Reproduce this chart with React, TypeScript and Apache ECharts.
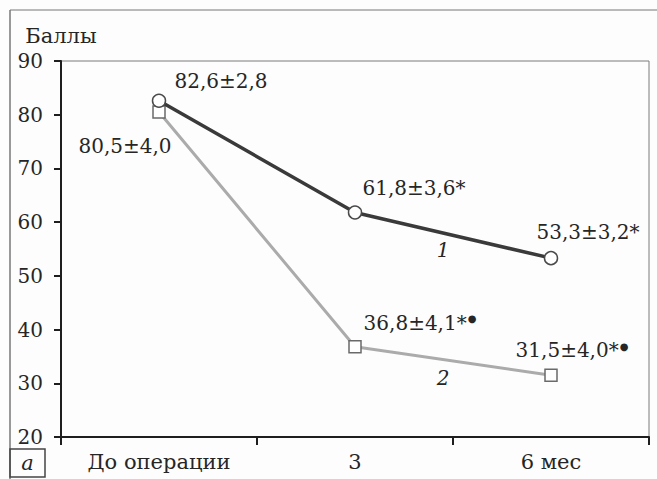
import React, { useEffect, useRef } from "react";
import * as echarts from "echarts";

const categories = ["До операции", "3", "6 мес"];
const series1Values = [82.6, 61.8, 53.3];
const series2Values = [80.5, 36.8, 31.5];
const series1Labels = ["82,6±2,8", "61,8±3,6*", "53,3±3,2*"];
const series2Labels = ["80,5±4,0", "36,8±4,1*", "31,5±4,0*"];
const series2Marks = ["", "●", "●"];
const yTicks = [20, 30, 40, 50, 60, 70, 80, 90];

const FONT = "DejaVu Serif";
const TEXT = "#262626";

const s1Offsets: [number, number][] = [[62, -20], [59, -24], [37, -26]];
const s2Offsets: [number, number][] = [[-34, 34], [65, -24], [21, -25]];

export default function App() {
  const ref = useRef<HTMLDivElement>(null);
  useEffect(() => {
    if (!ref.current) return;
    const chart = echarts.init(ref.current, undefined, { renderer: "svg" });
    const rich = {
      t: { fontFamily: FONT, fontSize: 20, color: TEXT },
      d: { fontFamily: FONT, fontSize: 10, color: TEXT, padding: [0, 0, 8, 1] },
    };
    chart.setOption({
      animation: false,
      backgroundColor: "#fdfdfd",
      grid: {
        left: 61,
        right: 8,
        top: 61,
        bottom: 42,
        show: true,
        borderColor: "#7a7a7a",
        borderWidth: 1,
      },
      xAxis: {
        type: "category",
        data: categories,
        boundaryGap: true,
        axisLine: { lineStyle: { color: "#1e1e1e", width: 2 } },
        axisTick: { show: true, length: 8, lineStyle: { color: "#1e1e1e", width: 2 } },
        axisLabel: { fontFamily: FONT, fontSize: 21, color: TEXT, margin: 14 },
        splitLine: { show: false },
      },
      yAxis: {
        type: "value",
        min: yTicks[0],
        max: yTicks[yTicks.length - 1],
        interval: 10,
        name: "Баллы",
        nameLocation: "end",
        nameGap: 15,
        nameTextStyle: { fontFamily: FONT, fontSize: 21, color: TEXT },
        axisLine: { show: true, lineStyle: { color: "#1e1e1e", width: 2 } },
        axisTick: { show: true, length: 7, lineStyle: { color: "#1e1e1e", width: 2 } },
        axisLabel: { fontFamily: FONT, fontSize: 20, color: TEXT, margin: 18 },
        splitLine: { show: false },
      },
      series: [
        {
          type: "line",
          data: series1Values.map((v, i) => ({
            value: v,
            label: {
              show: true,
              position: "inside",
              offset: s1Offsets[i],
              formatter: series1Labels[i],
              fontFamily: FONT,
              fontSize: 20,
              color: TEXT,
            },
          })),
          symbol: "circle",
          symbolSize: 13,
          lineStyle: { color: "#3a3a3a", width: 3.5 },
          itemStyle: { color: "#ffffff", borderColor: "#4a4a4a", borderWidth: 1.5 },
          z: 3,
        },
        {
          type: "line",
          data: series2Values.map((v, i) => ({
            value: v,
            label: {
              show: true,
              position: "inside",
              offset: s2Offsets[i],
              formatter: series2Marks[i]
                ? `{t|${series2Labels[i]}}{d|${series2Marks[i]}}`
                : `{t|${series2Labels[i]}}`,
              rich,
            },
          })),
          symbol: "rect",
          symbolSize: 12,
          lineStyle: { color: "#ababab", width: 3 },
          itemStyle: { color: "#ffffff", borderColor: "#6a6a6a", borderWidth: 1.5 },
          z: 2,
        },
      ],
      graphic: [
        {
          type: "line",
          shape: { x1: 10, y1: 10, x2: 657, y2: 10 },
          style: { stroke: "#777", lineWidth: 1 },
        },
        {
          type: "line",
          shape: { x1: 10, y1: 10, x2: 10, y2: 479 },
          style: { stroke: "#777", lineWidth: 1.5 },
        },
        {
          type: "rect",
          shape: { x: 10, y: 449, width: 35, height: 28 },
          style: { fill: "none", stroke: "#444", lineWidth: 1.5 },
        },
        {
          type: "text",
          x: 27.5,
          y: 463,
          style: {
            text: "а",
            font: `italic 21px "${FONT}"`,
            fill: TEXT,
            align: "center",
            verticalAlign: "middle",
          },
        },
        {
          type: "text",
          x: 443,
          y: 250,
          style: {
            text: "1",
            font: `italic 20px "${FONT}"`,
            fill: TEXT,
            align: "center",
            verticalAlign: "middle",
          },
        },
        {
          type: "text",
          x: 443,
          y: 378,
          style: {
            text: "2",
            font: `italic 20px "${FONT}"`,
            fill: TEXT,
            align: "center",
            verticalAlign: "middle",
          },
        },
      ],
    });
    return () => chart.dispose();
  }, []);
  return (
    <div
      ref={ref}
      style={{ position: "fixed", left: 0, top: 0, width: 657, height: 479 }}
    />
  );
}
